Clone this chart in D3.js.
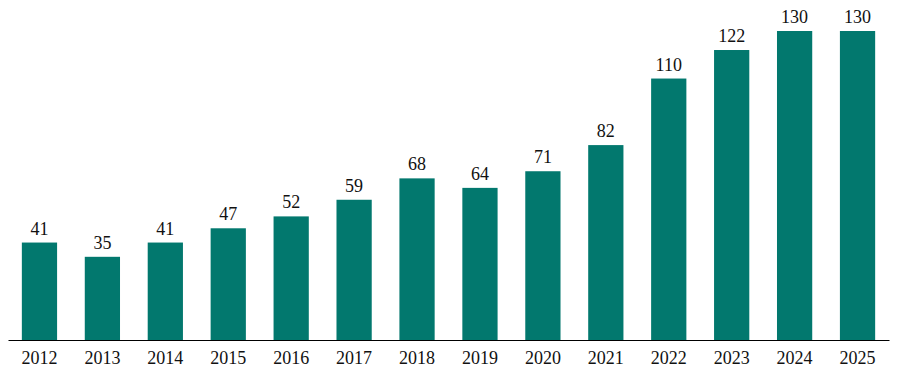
<!DOCTYPE html>
<html>
<head>
<meta charset="utf-8">
<script src="https://cdn.jsdelivr.net/npm/d3@7"></script>
<style>
body { margin: 0; background: #fff; }
text { font-family: "Liberation Serif", "Times New Roman", serif; }
</style>
</head>
<body>
<svg id="chart" width="908" height="388"></svg>
<script>
var years = ["2012","2013","2014","2015","2016","2017","2018","2019","2020","2021","2022","2023","2024","2025"]
var values = [41,35,41,47,52,59,68,64,71,82,110,122,130,130]

var svg = d3.select("#chart")
var left = 8, right = 889, baseY = 340, topY = 31

var x = d3.scaleBand()
    .domain(years)
    .range([left, right])
    .paddingInner(0.44)
    .paddingOuter(0.22)

var y = d3.scaleLinear()
    .domain([0, 130])
    .range([baseY, topY])

svg.selectAll("rect.bar")
  .data(values)
  .enter().append("rect")
    .attr("class", "bar")
    .attr("x", function(d, i) { return x(years[i]) })
    .attr("width", x.bandwidth())
    .attr("y", function(d) { return y(d) })
    .attr("height", function(d) { return baseY - y(d) })
    .attr("fill", "#02786E")

svg.selectAll("text.val")
  .data(values)
  .enter().append("text")
    .attr("class", "val")
    .attr("x", function(d, i) { return x(years[i]) + x.bandwidth() / 2 })
    .attr("y", function(d) { return y(d) - 8 })
    .attr("text-anchor", "middle")
    .attr("font-size", "18px")
    .attr("fill", "#111")
    .text(function(d) { return d })

var axis = d3.axisBottom(x).tickSize(0).tickPadding(0)
var g = svg.append("g")
    .attr("transform", "translate(0," + baseY + ")")
    .call(axis)
g.select(".domain").attr("stroke", "#000").attr("stroke-width", 1.2)
g.selectAll("text")
    .attr("y", 24)
    .attr("dy", null)
    .attr("font-size", "18px")
    .attr("fill", "#111")
    .style("font-family", '"Liberation Serif", "Times New Roman", serif')
</script>
</body>
</html>
